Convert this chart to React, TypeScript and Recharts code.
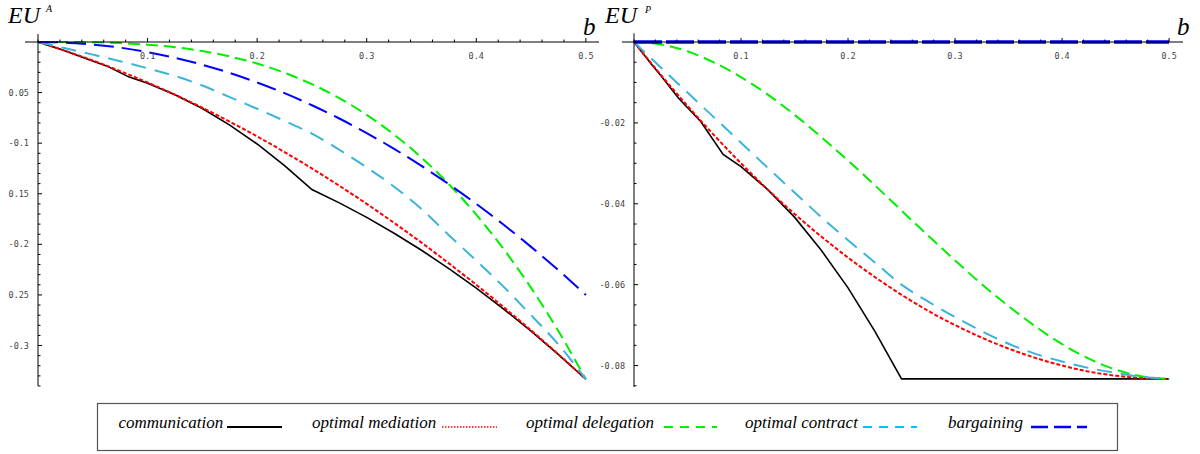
import { LineChart, Line, XAxis, YAxis } from "recharts";

// b values for the smooth series
const bGrid = [0, 0.025, 0.05, 0.075, 0.1, 0.125, 0.15, 0.175, 0.2, 0.225, 0.25, 0.275, 0.3, 0.325, 0.35, 0.375, 0.4, 0.425, 0.45, 0.475, 0.5];

// communication has kinks, so it gets its own b values
const commB = [0, 0.0167, 0.025, 0.0417, 0.0625, 0.0833, 0.1, 0.125, 0.15, 0.175, 0.2, 0.225, 0.25, 0.275, 0.3, 0.325, 0.35, 0.375, 0.4, 0.425, 0.45, 0.475, 0.5];
const commA = [0, -0.0058, -0.009, -0.0156, -0.0236, -0.0347, -0.0408, -0.0521, -0.0658, -0.0821, -0.1008, -0.1221, -0.1458, -0.159, -0.1733, -0.189, -0.2058, -0.224, -0.2433, -0.264, -0.2858, -0.309, -0.3333];
const commP = [0, -0.0056, -0.0083, -0.0139, -0.0197, -0.0278, -0.0308, -0.0365, -0.0433, -0.0515, -0.0608, -0.0715, -0.0833, -0.0833, -0.0833, -0.0833, -0.0833, -0.0833, -0.0833, -0.0833, -0.0833, -0.0833, -0.0833];

const medA = [0, -0.0088, -0.0183, -0.0288, -0.04, -0.0521, -0.065, -0.0788, -0.0933, -0.1088, -0.125, -0.1421, -0.16, -0.1788, -0.1983, -0.2188, -0.24, -0.2621, -0.285, -0.3088, -0.3333];
const medP = [0, -0.0081, -0.0158, -0.0231, -0.03, -0.0365, -0.0425, -0.0481, -0.0533, -0.0581, -0.0625, -0.0665, -0.07, -0.0731, -0.0758, -0.0781, -0.08, -0.0815, -0.0825, -0.0831, -0.0833];

const delA = [0, 0, -0.0003, -0.0011, -0.0027, -0.0052, -0.009, -0.0143, -0.0213, -0.0304, -0.0417, -0.0555, -0.072, -0.0915, -0.1143, -0.1406, -0.1707, -0.2047, -0.243, -0.2858, -0.3333];
const delP = [0, -0.0006, -0.0023, -0.0051, -0.0087, -0.013, -0.018, -0.0235, -0.0293, -0.0354, -0.0417, -0.0479, -0.054, -0.0599, -0.0653, -0.0703, -0.0747, -0.0783, -0.081, -0.0827, -0.0833];

const conA = [0, -0.0062, -0.0125, -0.019, -0.026, -0.0335, -0.043, -0.0545, -0.066, -0.078, -0.0905, -0.1065, -0.124, -0.143, -0.165, -0.191, -0.216, -0.242, -0.27, -0.299, -0.3333];
const conP = [0, -0.0063, -0.0125, -0.0187, -0.0249, -0.0311, -0.0372, -0.0433, -0.049, -0.0545, -0.06, -0.0642, -0.068, -0.0715, -0.0746, -0.0771, -0.079, -0.0806, -0.0818, -0.0828, -0.0833];

const barA = [0, -0.0006, -0.0025, -0.0056, -0.01, -0.0156, -0.0225, -0.0306, -0.04, -0.0506, -0.0625, -0.0756, -0.09, -0.1056, -0.1225, -0.1406, -0.16, -0.1806, -0.2025, -0.2256, -0.25];
const barP = [0, 0, 0, 0, 0, 0, 0, 0, 0, 0, 0, 0, 0, 0, 0, 0, 0, 0, 0, 0, 0];

// tick labels
const xMajor = [0.1, 0.2, 0.3, 0.4, 0.5];
const xMajorLabels = ["0.1", "0.2", "0.3", "0.4", "0.5"];
const yMajorA = [-0.05, -0.1, -0.15, -0.2, -0.25, -0.3];
const yMajorALabels = ["0.05", "-0.1", "0.15", "-0.2", "0.25", "-0.3"];
const yMajorP = [-0.02, -0.04, -0.06, -0.08];
const yMajorPLabels = ["-0.02", "-0.04", "-0.06", "-0.08"];

const legendItems = ["communication", "optimal mediation", "optimal delegation", "optimal contract", "bargaining"];

const xTicks = Array.from({ length: 26 }, (_, i) => +(i * 0.02).toFixed(2));
const yTicksA = Array.from({ length: 35 }, (_, i) => +(-i * 0.01).toFixed(2));
const yTicksP = Array.from({ length: 18 }, (_, i) => +(-i * 0.005).toFixed(3));

const rows = (b: number[], v: number[]) => b.map((x, i) => ({ b: x, v: v[i] }));

const tickFont = { fontFamily: "'DejaVu Sans Mono', monospace", fontSize: 8.5, fill: "#444" };
const serif = "'Liberation Serif', 'Times New Roman', serif";

const findIdx = (arr: number[], v: number) => arr.findIndex((m) => Math.abs(m - v) < 1e-6);

function makeXTick(stubX: number, stubY: number) {
  return (props: any) => {
    const { x, y, payload } = props;
    const i = findIdx(xMajor, payload.value);
    const len = i >= 0 ? 4 : 2.5;
    return (
      <g>
        <line x1={x} x2={x} y1={y} y2={y - len} stroke="#000" strokeWidth={1} />
        {payload.value === 0 && (
          <>
            <line x1={x - stubX} x2={x} y1={y} y2={y} stroke="#000" strokeWidth={1} />
            <line x1={x} x2={x} y1={y} y2={y - stubY} stroke="#000" strokeWidth={1} />
          </>
        )}
        {i >= 0 && (
          <text x={x} y={y + 16.5} textAnchor="middle" style={tickFont}>
            {xMajorLabels[i]}
          </text>
        )}
      </g>
    );
  };
}

function makeYTick(majors: number[], labels: string[]) {
  return (props: any) => {
    const { x, y, payload } = props;
    const i = findIdx(majors, payload.value);
    const len = i >= 0 ? 4 : 2.5;
    return (
      <g>
        <line x1={x} x2={x + len} y1={y} y2={y} stroke="#000" strokeWidth={1} />
        {i >= 0 && (
          <text x={x - 9} y={y + 3} textAnchor="end" style={tickFont}>
            {labels[i]}
          </text>
        )}
      </g>
    );
  };
}

const RED = "#ff0000";
const GREEN = "#00ee00";
const CYAN = "#3ab4da";
const BLUE = "#0000ff";

export default function App() {
  return (
    <div style={{ position: "absolute", left: 0, top: 0, width: 1200, height: 454, background: "#fff" }}>
      <div style={{ position: "absolute", left: 0, top: 0 }}>
        <LineChart width={610} height={400} margin={{ top: 12, right: 11, bottom: 14, left: 0 }}>
          <XAxis
            type="number"
            dataKey="b"
            orientation="top"
            height={30}
            domain={[0, 0.512]}
            ticks={xTicks}
            interval={0}
            tickSize={0}
            tickMargin={0}
            tick={makeXTick(13, 8)}
            axisLine={{ stroke: "#000" }}
            tickLine={false}
          />
          <YAxis
            type="number"
            dataKey="v"
            width={38}
            domain={[-0.34, 0]}
            ticks={yTicksA}
            interval={0}
            tickSize={0}
            tickMargin={0}
            tick={makeYTick(yMajorA, yMajorALabels)}
            axisLine={{ stroke: "#000" }}
            tickLine={false}
          />
          <Line data={rows(commB, commA)} dataKey="v" type="linear" stroke="#000" strokeWidth={1.6} dot={false} activeDot={false} isAnimationActive={false} />
          <Line data={rows(bGrid, medA)} dataKey="v" type="monotone" stroke={RED} strokeWidth={2} strokeDasharray="4 2" dot={false} activeDot={false} isAnimationActive={false} />
          <Line data={rows(bGrid, delA)} dataKey="v" type="monotone" stroke={GREEN} strokeWidth={2} strokeDasharray="12 6" dot={false} activeDot={false} isAnimationActive={false} />
          <Line data={rows(bGrid, conA)} dataKey="v" type="monotone" stroke={CYAN} strokeWidth={2} strokeDasharray="15 9" dot={false} activeDot={false} isAnimationActive={false} />
          <Line data={rows(bGrid, barA)} dataKey="v" type="monotone" stroke={BLUE} strokeWidth={2} strokeDasharray="20 8" dot={false} activeDot={false} isAnimationActive={false} />
        </LineChart>
      </div>
      <div style={{ position: "absolute", left: 600, top: 0 }}>
        <LineChart width={600} height={400} margin={{ top: 12, right: 17, bottom: 13, left: 0 }}>
          <XAxis
            type="number"
            dataKey="b"
            orientation="top"
            height={30}
            domain={[0, 0.513]}
            ticks={xTicks}
            interval={0}
            tickSize={0}
            tickMargin={0}
            tick={makeXTick(12, 8.7)}
            axisLine={{ stroke: "#000" }}
            tickLine={false}
          />
          <YAxis
            type="number"
            dataKey="v"
            width={34}
            domain={[-0.0853, 0]}
            ticks={yTicksP}
            interval={0}
            tickSize={0}
            tickMargin={0}
            tick={makeYTick(yMajorP, yMajorPLabels)}
            axisLine={{ stroke: "#000" }}
            tickLine={false}
          />
          <Line data={rows(commB, commP)} dataKey="v" type="linear" stroke="#000" strokeWidth={1.6} dot={false} activeDot={false} isAnimationActive={false} />
          <Line data={rows(bGrid, medP)} dataKey="v" type="monotone" stroke={RED} strokeWidth={2} strokeDasharray="4 2" dot={false} activeDot={false} isAnimationActive={false} />
          <Line data={rows(bGrid, delP)} dataKey="v" type="monotone" stroke={GREEN} strokeWidth={2} strokeDasharray="12 6" dot={false} activeDot={false} isAnimationActive={false} />
          <Line data={rows(bGrid, conP)} dataKey="v" type="monotone" stroke={CYAN} strokeWidth={2} strokeDasharray="15 9" dot={false} activeDot={false} isAnimationActive={false} />
          <Line data={rows(bGrid, barP)} dataKey="v" type="linear" stroke={BLUE} strokeWidth={3.5} strokeDasharray="28 4" dot={false} activeDot={false} isAnimationActive={false} />
        </LineChart>
      </div>
      <svg width={1200} height={454} style={{ position: "absolute", left: 0, top: 0, pointerEvents: "none" }}>
        <g fontFamily={serif} fontStyle="italic" fill="#000">
          <text x={8} y={23} fontSize={24}>EU</text>
          <text x={46} y={12} fontSize={10}>A</text>
          <text x={583} y={35} fontSize={25}>b</text>
          <text x={605} y={23} fontSize={24}>EU</text>
          <text x={645} y={13} fontSize={10}>P</text>
          <text x={1177} y={35} fontSize={25}>b</text>
        </g>
        <rect x={97.5} y={403.5} width={1020} height={47} fill="none" stroke="#555" strokeWidth={1.2} />
        <g fontFamily={serif} fontStyle="italic" fontSize={17} fill="#000">
          <text x={118.5} y={428}>{legendItems[0]}</text>
          <text x={312} y={428}>{legendItems[1]}</text>
          <text x={526} y={428}>{legendItems[2]}</text>
          <text x={745} y={428}>{legendItems[3]}</text>
          <text x={948} y={428}>{legendItems[4]}</text>
        </g>
        <line x1={227} x2={282} y1={427} y2={427} stroke="#000" strokeWidth={2} />
        <line x1={442} x2={497} y1={427} y2={427} stroke={RED} strokeWidth={1.5} strokeDasharray="1.5 1.5" />
        <line x1={664} x2={717} y1={427} y2={427} stroke="#00ee00" strokeWidth={2} strokeDasharray="9 7" />
        <line x1={863} x2={917} y1={427} y2={427} stroke="#00c0ff" strokeWidth={2} strokeDasharray="9 7" />
        <line x1={1031} x2={1087} y1={427} y2={427} stroke={BLUE} strokeWidth={2.5} strokeDasharray="17 6" />
      </svg>
    </div>
  );
}
